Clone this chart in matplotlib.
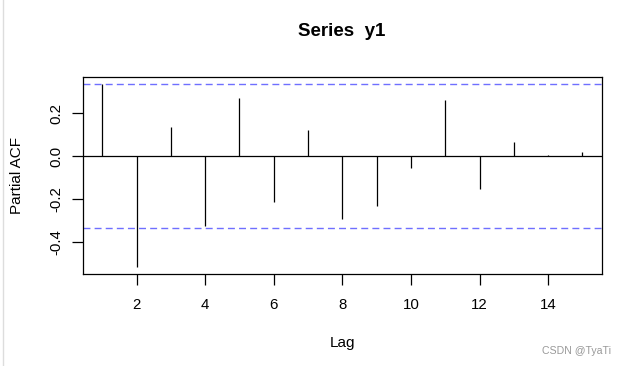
import numpy as np
import matplotlib
matplotlib.use('Agg')
import matplotlib.pyplot as plt
from matplotlib.lines import Line2D

# PACF VALUES
lags = list(range(1, 16))
pacf = [0.334, -0.516, 0.134, -0.326, 0.269, -0.214, 0.120, -0.291,
        -0.234, -0.053, 0.262, -0.153, 0.066, 0.004, 0.019]
clim = 0.335
x_ticks = [2, 4, 6, 8, 10, 12, 14]
y_ticks = [-0.4, -0.2, 0.0, 0.2]

plt.rcParams['font.family'] = ['Liberation Sans', 'DejaVu Sans']

fig = plt.figure(figsize=(6.24, 3.66), dpi=100)
ax = fig.add_axes([0.133, 0.2505, 0.8312, 0.5399])

# SPIKES, ZERO LINE, CONFIDENCE BOUNDS
ax.vlines(lags, 0, pacf, color='black', lw=0.9)
ax.axhline(0, color='black', lw=0.9)
for c in (clim, -clim):
    ax.axhline(c, color='#6f6fff', lw=1.0, linestyle=(0, (5, 3)))

ax.set_xlim(0.44, 15.56)
ax.set_ylim(-0.55, 0.37)
ax.set_xticks(x_ticks)
ax.set_yticks(y_ticks)
ax.set_yticklabels(['%.1f' % v for v in y_ticks], rotation=90, va='center')

for s in ax.spines.values():
    s.set_linewidth(0.9)
    s.set_color('black')

ax.tick_params(axis='both', direction='out', length=8, width=0.9, labelsize=10.8)
ax.tick_params(axis='x', pad=9)
ax.tick_params(axis='y', pad=6)

ax.set_xlabel('Lag', fontsize=11)
ax.xaxis.set_label_coords(0.5, -0.348)
ax.xaxis.label.set_va('center')
ax.set_ylabel('Partial ACF', fontsize=11)
ax.yaxis.set_label_coords(-0.127, 0.5)
ax.yaxis.label.set_va('center')

fig.text(342 / 624, 1 - 32 / 366, 'Series  y1', ha='center', va='center',
         fontsize=13.5, fontweight='bold')

# SCREENSHOT DETAILS
fig.text(611 / 624, 1 - 351 / 366, 'CSDN @TyaTi', ha='right', va='center',
         fontsize=7.6, color='#999999')
fig.add_artist(Line2D([3.3 / 624, 3.3 / 624], [0, 1], color='#dddddd', lw=1))

fig.savefig('out.png', dpi=100)
